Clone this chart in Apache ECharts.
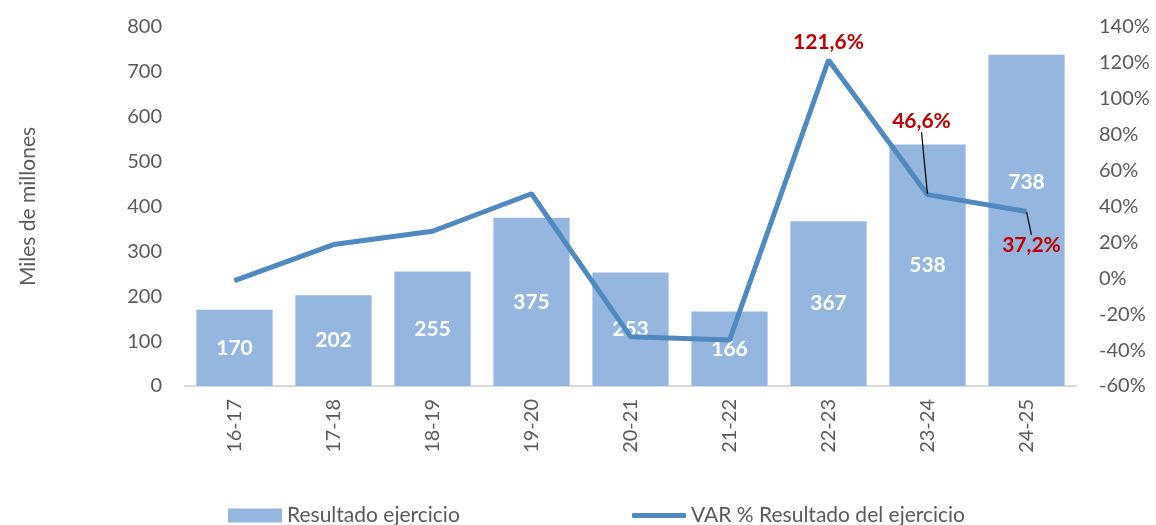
<!DOCTYPE html>
<html><head><meta charset="utf-8">
<script src="https://cdn.jsdelivr.net/npm/echarts@6/dist/echarts.min.js"></script>
<style>html,body{margin:0;padding:0;background:#fff}#c{width:1156px;height:525px}</style>
</head><body><div id="c"></div>
<script>
const categories = ['16-17','17-18','18-19','19-20','20-21','21-22','22-23','23-24','24-25'];
const resultado = [170, 202, 255, 375, 253, 166, 367, 538, 738];
const variacion = [-1.3, 18.8, 26.2, 47.1, -32.5, -34.4, 121.6, 46.6, 37.2];
const labeledVar = [6, 7, 8];
const leftTicks = {min: 0, max: 800, interval: 100};
const rightTicks = {min: -60, max: 140, interval: 20};

const FONT = 'Lato';
const GRAY = '#595959';
const BAR = '#95B7DF';
const LINE = '#4F89BF';

const barData = resultado.map((v, i) => {
  const d = {value: v};
  if (i === 8) d.label = {offset: [0, -38]};
  return d;
});
const lineData = variacion.map((v, i) => {
  const d = {value: v};
  if (labeledVar.includes(i)) {
    d.label = {show: true, position: i === 8 ? 'bottom' : 'top'};
    if (i !== 6) d.labelLine = {show: true, lineStyle: {color: '#000', width: 1.2}};
  }
  return d;
});

const chart = echarts.init(document.getElementById('c'), null, {renderer: 'canvas'});
chart.setOption({
  animation: false,
  textStyle: {fontFamily: FONT},
  grid: {left: 185, right: 80, top: 27, bottom: 139, containLabel: false},
  legend: [
    {data: [{name: 'Resultado ejercicio', icon: 'rect'}], left: 223, top: 500, itemWidth: 54, itemHeight: 14, itemGap: 0,
     textStyle: {fontSize: 21, color: GRAY, fontFamily: FONT}},
    {data: [{name: 'VAR % Resultado del ejercicio', icon: 'roundRect'}], left: 627, top: 500, itemWidth: 54, itemHeight: 5,
     itemStyle: {color: LINE, borderWidth: 0},
     textStyle: {fontSize: 21, color: GRAY, fontFamily: FONT}}
  ],
  xAxis: {
    type: 'category', data: categories,
    axisLine: {lineStyle: {color: '#D9D9D9', width: 2}},
    axisTick: {show: false},
    axisLabel: {rotate: 90, margin: 13, fontSize: 20, color: GRAY, fontFamily: FONT}
  },
  yAxis: [
    {type: 'value', min: leftTicks.min, max: leftTicks.max, interval: leftTicks.interval,
     name: 'Miles de millones', nameLocation: 'middle', nameGap: 146, nameRotate: 90,
     nameTextStyle: {fontSize: 21, color: GRAY, fontFamily: FONT},
     splitLine: {show: false}, axisLine: {show: false}, axisTick: {show: false},
     axisLabel: {fontSize: 20, color: GRAY, margin: 23, fontFamily: FONT}},
    {type: 'value', min: rightTicks.min, max: rightTicks.max, interval: rightTicks.interval,
     splitLine: {show: false}, axisLine: {show: false}, axisTick: {show: false},
     axisLabel: {fontSize: 20, color: GRAY, margin: 23, fontFamily: FONT, formatter: v => v + '%'}}
  ],
  series: [
    {name: 'Resultado ejercicio', type: 'bar', data: barData, yAxisIndex: 0,
     barCategoryGap: '23%', itemStyle: {color: BAR},
     label: {show: true, position: 'inside', color: '#fff', fontWeight: 'bold', fontSize: 21, fontFamily: FONT}},
    {name: 'VAR % Resultado del ejercicio', type: 'line', data: lineData, yAxisIndex: 1,
     symbol: 'circle', symbolSize: 1, showSymbol: true,
     itemStyle: {color: LINE}, lineStyle: {color: LINE, width: 5},
     label: {show: false, color: '#C00000', fontWeight: 'bold', fontSize: 21, fontFamily: FONT,
       formatter: p => p.value.toFixed(1).replace('.', ',') + '%'},
     labelLayout: p => {
       if (p.dataIndex === 6) return {dy: -2};
       if (p.dataIndex === 7) return {dx: -6, dy: -57};
       if (p.dataIndex === 8) return {dx: 5, dy: 18};
       return {};
     }}
  ]
});
</script></body></html>
